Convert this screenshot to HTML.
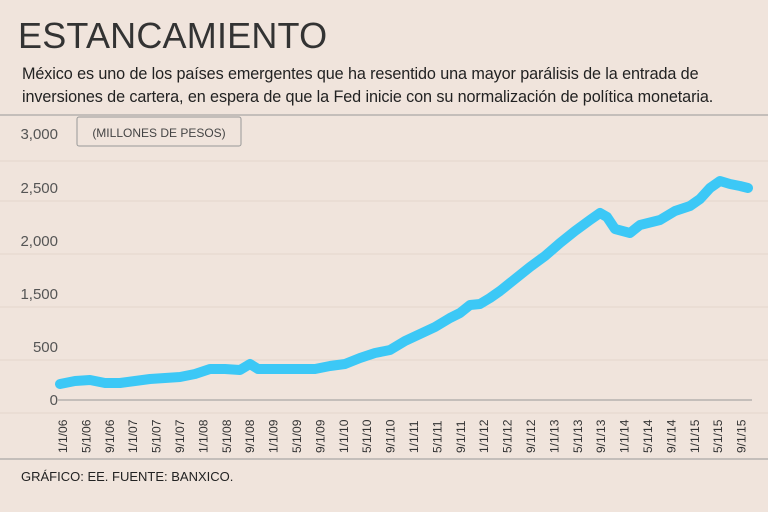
<!DOCTYPE html>
<html><head><meta charset="utf-8"><style>
body{margin:0;width:768px;height:512px;background:#f0e4dc;font-family:"Liberation Sans",sans-serif;overflow:hidden;position:relative;color:#222}
.t{position:absolute;left:18px;top:15px;font-size:36px;letter-spacing:0.2px;color:#333;font-weight:normal}
.s{position:absolute;left:22px;top:63px;font-size:16.2px;line-height:23px;color:#222;white-space:nowrap;letter-spacing:-0.1px}
</style></head><body>
<div class="t">ESTANCAMIENTO</div>
<div class="s">México es uno de los países emergentes que ha resentido una mayor parálisis de la entrada de<br>inversiones de cartera, en espera de que la Fed inicie con su normalización de política monetaria.</div>
<svg width="768" height="512" style="position:absolute;left:0;top:0" font-family="Liberation Sans, sans-serif">
<line x1="0" y1="115" x2="768" y2="115" stroke="#999" stroke-width="1"/>
<g stroke="#e4d6cc" stroke-width="1">
<line x1="0" y1="161" x2="768" y2="161"/><line x1="0" y1="201" x2="768" y2="201"/>
<line x1="0" y1="254" x2="768" y2="254"/><line x1="0" y1="307" x2="768" y2="307"/>
<line x1="0" y1="360" x2="768" y2="360"/><line x1="0" y1="413" x2="768" y2="413"/>
</g>
<line x1="58" y1="400" x2="752" y2="400" stroke="#999" stroke-width="1"/>
<rect x="77" y="117" width="164" height="29" fill="none" stroke="#999" rx="2"/>
<text x="159" y="137" font-size="12" text-anchor="middle" fill="#444">(MILLONES DE PESOS)</text>
<g font-size="15" fill="#555" text-anchor="end">
<text x="58" y="139">3,000</text><text x="58" y="193">2,500</text><text x="58" y="246">2,000</text>
<text x="58" y="299">1,500</text><text x="58" y="352">500</text>
<text x="58" y="405">0</text>
</g>
<polyline fill="none" stroke="#3cc8f6" stroke-width="10" stroke-linejoin="round" stroke-linecap="round" points="60,384 75,381 90,380 105,383 120,383 135,381 150,379 165,378 180,377 195,374 210,369 225,369 240,370 250,364 258,369 270,369 285,369 300,369 315,369 330,366 345,364 360,358 375,353 390,350 405,341 420,334 435,327 450,318 460,313 470,305 480,304 490,298 500,291 515,279 530,267 545,256 560,243 575,231 590,220 600,213 607,217 615,229 630,233 640,225 660,220 675,211 690,206 700,199 710,188 720,181 730,184 740,186 748,188"/>
<g font-size="12" fill="#333" id="xl"></g>
<line x1="0" y1="459" x2="768" y2="459" stroke="#999" stroke-width="1"/>
<text x="21" y="481" font-size="13" fill="#222">GRÁFICO: EE. FUENTE: BANXICO.</text>
</svg>
<script>
var g=document.getElementById('xl'),m=[1,5,9],s='';
for(var i=0;i<30;i++){var yr=6+Math.floor(i/3),mo=m[i%3];var lab=mo+'/1/'+(yr<10?'0'+yr:yr);var x=67+i*23.4;
s+='<text transform="translate('+x.toFixed(1)+',453) rotate(-90)">'+lab+'</text>';}
g.innerHTML=s;
</script>
</body></html>
